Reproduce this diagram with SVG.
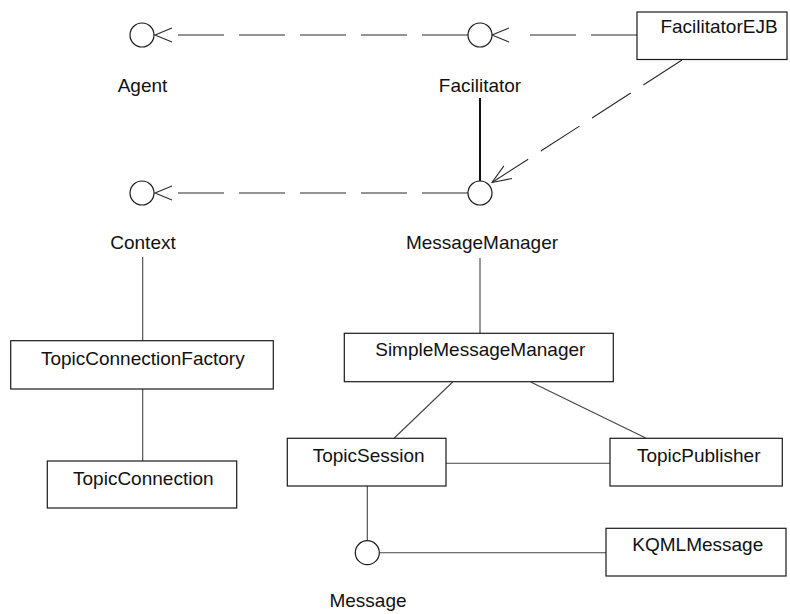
<svg xmlns="http://www.w3.org/2000/svg" width="790" height="614" viewBox="0 0 790 614">
  <defs>
    <style>
      .box { fill: #ffffff; stroke: #1a1a1a; stroke-width: 1.2; }
      .iface { fill: #ffffff; stroke: #1a1a1a; stroke-width: 1.2; }
      .label { font-family: "Liberation Sans", Arial, sans-serif; font-size: 19px; fill: #111111; text-anchor: middle; }
      .dep { fill: none; stroke: #2a2a2a; stroke-width: 1.1; stroke-dasharray: 46 15; }
      .dep.short { stroke-dasharray: 46 15 46 40; }
      .assoc { fill: none; stroke: #444444; stroke-width: 1.1; }
      .realize { fill: none; stroke: #111111; stroke-width: 2; }
    </style>
    <!-- open arrowhead whose tip sits 17px beyond the line end -->
    <marker id="openAhead" markerUnits="userSpaceOnUse" orient="auto" markerWidth="40" markerHeight="40" refX="0" refY="0" overflow="visible">
      <path d="M0,-7 L17,0 L0,7" fill="none" stroke="#2a2a2a" stroke-width="1.1"/>
    </marker>
    <!-- open arrowhead whose tip sits on the line end -->
    <marker id="openTip" markerUnits="userSpaceOnUse" orient="auto" markerWidth="40" markerHeight="40" refX="0" refY="0" overflow="visible">
      <path d="M-19,-7.5 L0,0 L-19,7.5" fill="none" stroke="#2a2a2a" stroke-width="1.1"/>
    </marker>
  </defs>

  <!-- connectors -->
  <g id="connectors">
    <path class="dep" d="M468,35 L172,35" marker-end="url(#openAhead)"/>
    <path class="dep short" d="M637,35 L509,35" marker-end="url(#openAhead)"/>
    <path class="dep" d="M682,60 L492,182.5" marker-end="url(#openTip)"/>
    <path class="dep" d="M468,193 L172,193" marker-end="url(#openAhead)"/>
    <path class="realize" d="M480,98 L480,181"/>
    <path class="assoc" d="M142.7,257 L142.7,341"/>
    <path class="assoc" d="M142.7,389 L142.7,461"/>
    <path class="assoc" d="M480,258 L480,333"/>
    <path class="assoc" d="M452.7,382 L394.3,438"/>
    <path class="assoc" d="M530.7,382 L645.7,438"/>
    <path class="assoc" d="M446,463.3 L610,463.3"/>
    <path class="assoc" d="M367.3,486 L367.3,540.7"/>
    <path class="assoc" d="M379.3,552.7 L606,552.7"/>
  </g>

  <!-- interfaces -->
  <g id="Agent">
    <circle class="iface" cx="142" cy="35" r="12"/>
    <text class="label" x="142.5" y="92">Agent</text>
  </g>
  <g id="Facilitator">
    <circle class="iface" cx="480" cy="35" r="12"/>
    <text class="label" x="480" y="92">Facilitator</text>
  </g>
  <g id="Context">
    <circle class="iface" cx="142" cy="193" r="12"/>
    <text class="label" x="143" y="249">Context</text>
  </g>
  <g id="MessageManager">
    <circle class="iface" cx="480" cy="193" r="12"/>
    <text class="label" x="482" y="249">MessageManager</text>
  </g>
  <g id="Message">
    <circle class="iface" cx="367.3" cy="552.7" r="12"/>
    <text class="label" x="368" y="607">Message</text>
  </g>

  <!-- classes -->
  <g id="FacilitatorEJB">
    <rect class="box" x="637" y="12" width="150" height="47.5"/>
    <text class="label" x="719" y="32.5">FacilitatorEJB</text>
  </g>
  <g id="TopicConnectionFactory">
    <rect class="box" x="10.7" y="340.7" width="262.6" height="48.3"/>
    <text class="label" x="142.8" y="364.5">TopicConnectionFactory</text>
  </g>
  <g id="TopicConnection">
    <rect class="box" x="47.3" y="461" width="189.4" height="47"/>
    <text class="label" x="143.3" y="485">TopicConnection</text>
  </g>
  <g id="SimpleMessageManager">
    <rect class="box" x="344.3" y="333.3" width="269" height="48.4"/>
    <text class="label" x="480.3" y="356">SimpleMessageManager</text>
  </g>
  <g id="TopicSession">
    <rect class="box" x="287.3" y="438.3" width="158.7" height="47.7"/>
    <text class="label" x="368.7" y="461.7">TopicSession</text>
  </g>
  <g id="TopicPublisher">
    <rect class="box" x="610" y="438.3" width="172.3" height="47.7"/>
    <text class="label" x="698.7" y="461.7">TopicPublisher</text>
  </g>
  <g id="KQMLMessage">
    <rect class="box" x="606" y="528.3" width="180" height="47.7"/>
    <text class="label" x="697.8" y="550.7">KQMLMessage</text>
  </g>
</svg>
